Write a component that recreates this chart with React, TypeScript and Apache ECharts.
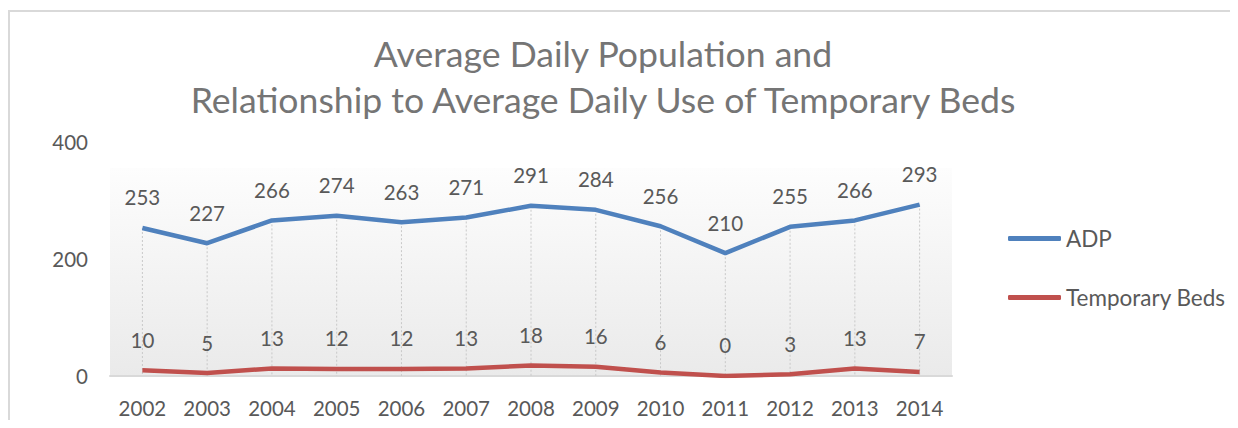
import React, { useEffect, useRef } from "react";
import * as echarts from "echarts";

const years = ["2002","2003","2004","2005","2006","2007","2008","2009","2010","2011","2012","2013","2014"];
const adp = [253, 227, 266, 274, 263, 271, 291, 284, 256, 210, 255, 266, 293];
const tempBeds = [10, 5, 13, 12, 12, 13, 18, 16, 6, 0, 3, 13, 7];
const yTicks = [0, 200, 400];
const titleLines = ["Average Daily Population and", "Relationship to Average Daily Use of Temporary Beds"];

const FONT = "Lato, 'Open Sans', sans-serif";
const TXT = "#595959";

export default function App() {
  const ref = useRef<HTMLDivElement>(null);
  useEffect(() => {
    if (!ref.current) return;
    const chart = echarts.init(ref.current, null, { renderer: "svg" });
    chart.setOption({
      animation: false,
      textStyle: { fontFamily: FONT },
      title: {
        text: titleLines.join("\n"),
        left: 590,
        textAlign: "center",
        top: 17,
        textStyle: { fontFamily: FONT, fontSize: 35.6, fontWeight: "normal", color: "#757575", lineHeight: 46 },
      },
      graphic: [
        { type: "line", shape: { x1: 0, y1: 3, x2: 1222, y2: 3 }, style: { stroke: "#d9d9d9", lineWidth: 2 }, silent: true, z: -10 },
        { type: "line", shape: { x1: 1, y1: 2, x2: 1, y2: 420 }, style: { stroke: "#d9d9d9", lineWidth: 2 }, silent: true, z: -10 },
        {
          type: "rect", shape: { x: 102, y: 160, width: 842, height: 208 }, silent: true, z: -5,
          style: { fill: new echarts.graphic.LinearGradient(0, 0, 0, 1, [{ offset: 0, color: "#fdfdfd" }, { offset: 1, color: "#eaeaea" }]) },
        },
      ],
      legend: {
        orient: "vertical",
        left: 995,
        top: 214,
        itemGap: 36,
        itemWidth: 53,
        itemHeight: 5,
        icon: "roundRect",
        textStyle: { color: TXT, fontSize: 22.5, fontFamily: FONT },
        data: ["ADP", "Temporary Beds"],
      },
      grid: { left: 102, right: 278, top: 134, bottom: 52, containLabel: false },
      xAxis: {
        type: "category",
        data: years,
        boundaryGap: true,
        axisLine: { lineStyle: { color: "#d9d9d9", width: 2 } },
        axisTick: { show: false },
        axisLabel: { color: TXT, fontSize: 20.5, fontFamily: FONT, margin: 21 },
      },
      yAxis: {
        type: "value",
        min: 0,
        max: 400,
        interval: 200,
        splitLine: { show: false },
        axisLine: { show: false },
        axisTick: { show: false },
        axisLabel: { color: TXT, fontSize: 20.5, fontFamily: FONT, margin: 22, formatter: (v: number) => (yTicks.includes(v) ? String(v) : "") },
      },
      series: [
        {
          type: "custom",
          name: "drop",
          data: adp.map((v, i) => [i, v]),
          z: 1,
          silent: true,
          renderItem: (params: any, api: any) => {
            const top = api.coord([api.value(0), api.value(1)]);
            const bot = api.coord([api.value(0), 0]);
            return {
              type: "line",
              shape: { x1: top[0], y1: top[1], x2: bot[0], y2: bot[1] },
              style: { stroke: "#c8c8c8", lineWidth: 1, lineDash: [2, 2] },
            };
          },
        },
        {
          type: "line",
          name: "ADP",
          data: adp,
          z: 3,
          symbol: "circle",
          symbolSize: 0.1,
          showSymbol: true,
          lineStyle: { color: "#4f81bd", width: 4.5 },
          itemStyle: { color: "#4f81bd" },
          label: { show: true, position: "top", distance: 20, color: TXT, fontSize: 20.5, fontFamily: FONT },
        },
        {
          type: "line",
          name: "Temporary Beds",
          data: tempBeds,
          z: 3,
          symbol: "circle",
          symbolSize: 0.1,
          showSymbol: true,
          lineStyle: { color: "#c0504d", width: 4.5 },
          itemStyle: { color: "#c0504d" },
          label: { show: true, position: "top", distance: 20, color: TXT, fontSize: 20.5, fontFamily: FONT },
        },
      ],
    });
    return () => chart.dispose();
  }, []);
  return <div ref={ref} style={{ width: 1222, height: 420, marginBottom: -8 }} />;
}
